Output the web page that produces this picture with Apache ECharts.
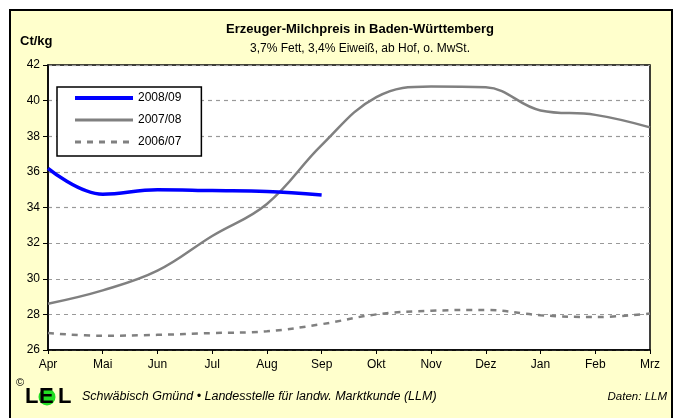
<!DOCTYPE html>
<html>
<head>
<meta charset="utf-8">
<script src="https://cdn.jsdelivr.net/npm/echarts@6/dist/echarts.min.js"></script>
<style>
  html, body { margin: 0; padding: 0; background: #fff; }
  #chart { width: 680px; height: 418px; }
</style>
</head>
<body>
<div id="chart"></div>
<script>
// Monate (Apr - Mrz)
var months = ['Apr', 'Mai', 'Jun', 'Jul', 'Aug', 'Sep', 'Okt', 'Nov', 'Dez', 'Jan', 'Feb', 'Mrz'];
// Milchpreis Ct/kg
var price0809 = [36.2, 34.75, 35.0, 34.95, 34.9, 34.7];
var price0708 = [28.6, 29.35, 30.45, 32.4, 34.2, 37.5, 40.2, 40.8, 40.75, 39.45, 39.2, 38.5];
var price0607 = [26.95, 26.8, 26.85, 26.95, 27.05, 27.45, 28.0, 28.2, 28.25, 27.95, 27.85, 28.05];
var yTicks = {min: 26, max: 42, step: 2};

var font = 'Liberation Sans, Arial, sans-serif';
var myChart = echarts.init(document.getElementById('chart'));

var option = {
	backgroundColor: '#fff',
	animation: false,
	textStyle: {fontFamily: font, color: '#000'},
	graphic: [
		{type: 'rect', z: -10, shape: {x: 10, y: 10, width: 662, height: 412},
			style: {fill: '#FFFFCC', stroke: '#000', lineWidth: 2}},
		{type: 'text', left: 20, top: 35, style: {text: 'Ct/kg', font: 'bold 13px ' + font, fill: '#000'}},
		// LEL Logo
		{type: 'text', left: 16, top: 377, style: {text: '©', font: '11px ' + font, fill: '#000'}},
		{type: 'text', left: 25, top: 386, style: {text: 'L', font: 'bold 22px ' + font, fill: '#000'}},
		{type: 'circle', shape: {cx: 47, cy: 397, r: 8.5}, style: {fill: '#22DD22'}},
		{type: 'text', left: 39, top: 386, style: {text: 'E', font: 'bold 22px ' + font, fill: '#000'}},
		{type: 'text', left: 58, top: 386, style: {text: 'L', font: 'bold 22px ' + font, fill: '#000'}},
		{type: 'text', left: 82, top: 390, style: {text: 'Schwäbisch Gmünd • Landesstelle für landw. Marktkunde (LLM)', font: 'italic 12.5px ' + font, fill: '#000'}},
		{type: 'text', right: 13, top: 391, style: {text: 'Daten: LLM', font: 'italic 11.5px ' + font, fill: '#000'}}
	],
	title: {
		text: 'Erzeuger-Milchpreis in Baden-Württemberg',
		subtext: '3,7% Fett, 3,4% Eiweiß, ab Hof, o. MwSt.',
		left: 355,
		textAlign: 'center',
		top: 18,
		itemGap: 7,
		textStyle: {fontSize: 13, fontWeight: 'bold', color: '#000', fontFamily: font},
		subtextStyle: {fontSize: 12, color: '#000', fontFamily: font}
	},
	legend: {
		orient: 'vertical',
		left: 57,
		top: 87,
		padding: [5, 20, 8, 16],
		itemWidth: 58,
		itemHeight: 12,
		itemGap: 10,
		itemTextGap: 1,
		backgroundColor: '#fff',
		borderColor: '#000',
		borderWidth: 1.5,
		borderRadius: 0,
		itemStyle: {opacity: 0},
		textStyle: {fontSize: 12, color: '#000', fontFamily: font},
		data: [
			{name: '2008/09', lineStyle: {width: 4}},
			{name: '2007/08', lineStyle: {width: 3}},
			{name: '2006/07', lineStyle: {width: 3}}
		]
	},
	grid: {
		left: 48,
		right: 30,
		top: 65,
		bottom: 68,
		show: true,
		backgroundColor: '#fff',
		borderColor: '#000',
		borderWidth: 1.5,
		containLabel: false
	},
	xAxis: {
		type: 'category',
		data: months,
		boundaryGap: false,
		axisLine: {lineStyle: {color: '#000', width: 1.5}},
		axisTick: {show: true, length: 4, lineStyle: {color: '#000'}},
		axisLabel: {fontSize: 12, color: '#000', margin: 9, fontFamily: font},
		splitLine: {show: false}
	},
	yAxis: {
		type: 'value',
		min: yTicks.min,
		max: yTicks.max,
		interval: yTicks.step,
		axisLine: {show: true, lineStyle: {color: '#000', width: 1.5}},
		axisTick: {show: true, length: 5, lineStyle: {color: '#000'}},
		axisLabel: {fontSize: 12, color: '#000', margin: 8, fontFamily: font},
		splitLine: {show: true, lineStyle: {color: '#999', type: [4, 4], width: 1.2}}
	},
	series: [{
		name: '2008/09',
		type: 'line',
		data: price0809,
		smooth: 0.4,
		symbol: 'none',
		z: 5,
		lineStyle: {color: '#0000FF', width: 3.5},
		itemStyle: {color: '#0000FF'}
	}, {
		name: '2007/08',
		type: 'line',
		data: price0708,
		smooth: 0.4,
		symbol: 'none',
		lineStyle: {color: '#808080', width: 2.5},
		itemStyle: {color: '#808080'}
	}, {
		name: '2006/07',
		type: 'line',
		data: price0607,
		smooth: 0.4,
		symbol: 'none',
		lineStyle: {color: '#808080', width: 2.5, type: [6, 6]},
		itemStyle: {color: '#808080'}
	}]
};
myChart.setOption(option);
</script>
</body>
</html>
